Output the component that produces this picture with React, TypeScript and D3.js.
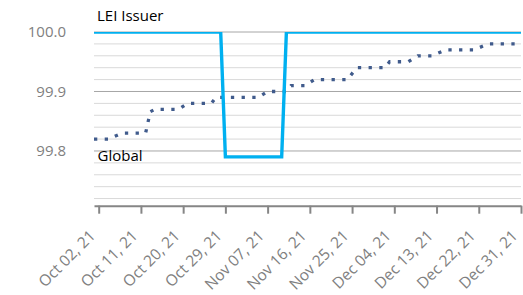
import React, { useRef, useEffect } from "react";
import * as d3 from "d3";

// LEI Issuer series (corner points of the step line)
const leiDates = ["2021-10-01", "2021-10-28", "2021-10-29", "2021-11-10", "2021-11-11", "2021-12-31"];
const leiValues = [100, 100, 99.79, 99.79, 100, 100];

// Global series
const globalDates = [
  "2021-10-01", "2021-10-04", "2021-10-07", "2021-10-12", "2021-10-13", "2021-10-14",
  "2021-10-19", "2021-10-21", "2021-10-26", "2021-10-27", "2021-11-05", "2021-11-07",
  "2021-11-11", "2021-11-12", "2021-11-15", "2021-11-17", "2021-11-24", "2021-11-26",
  "2021-12-02", "2021-12-03", "2021-12-07", "2021-12-09", "2021-12-12", "2021-12-15",
  "2021-12-21", "2021-12-24", "2021-12-31",
];
const globalValues = [
  99.82, 99.82, 99.83, 99.83, 99.866, 99.87,
  99.87, 99.88, 99.88, 99.89, 99.89, 99.9,
  99.9, 99.91, 99.91, 99.92, 99.92, 99.94,
  99.94, 99.95, 99.95, 99.96, 99.96, 99.97,
  99.97, 99.98, 99.98,
];

const xTicks = [
  "2021-10-02", "2021-10-11", "2021-10-20", "2021-10-29", "2021-11-07", "2021-11-16",
  "2021-11-25", "2021-12-04", "2021-12-13", "2021-12-22", "2021-12-31",
];
const yMajor = [99.8, 99.9, 100.0];
const yMinor = [99.72, 99.74, 99.76, 99.78, 99.82, 99.84, 99.86, 99.88, 99.92, 99.94, 99.96, 99.98];

const parse = d3.utcParse("%Y-%m-%d");
const fmt = d3.utcFormat("%b %d, %y");

export default function App() {
  const svgRef = useRef<SVGSVGElement>(null);

  useEffect(() => {
    const svg = d3.select(svgRef.current);
    svg.selectAll("*").remove();

    const left = 94, right = 521, top = 32, bottom = 205.7;
    const font = "'Open Sans', sans-serif";

    const x = d3.scaleUtc()
      .domain([parse("2021-10-01")!, parse("2021-12-31")!])
      .range([left, right]);
    const y = d3.scaleLinear().domain([99.708, 100]).range([bottom, top]);

    // gridlines
    svg.append("g")
      .selectAll("line")
      .data(yMinor)
      .join("line")
      .attr("x1", left).attr("x2", right)
      .attr("y1", (d) => y(d)).attr("y2", (d) => y(d))
      .attr("stroke", "#d9d9d9").attr("stroke-width", 1);
    svg.append("g")
      .selectAll("line")
      .data(yMajor)
      .join("line")
      .attr("x1", left).attr("x2", right)
      .attr("y1", (d) => y(d)).attr("y2", (d) => y(d))
      .attr("stroke", "#a6a6a6").attr("stroke-width", 1);

    // y labels
    svg.append("g")
      .selectAll("text")
      .data(yMajor)
      .join("text")
      .attr("x", 66)
      .attr("y", (d) => y(d))
      .attr("dy", "0.36em")
      .attr("text-anchor", "end")
      .attr("fill", "#808080")
      .style("font", `15px ${font}`)
      .text((d) => d.toFixed(1));

    // x axis
    const xAxis = d3.axisBottom(x)
      .tickValues(xTicks.map((d) => parse(d)!))
      .tickFormat((d) => fmt(d as Date))
      .tickSize(8)
      .tickSizeOuter(0);
    const gx = svg.append("g")
      .attr("transform", `translate(0,${bottom})`)
      .call(xAxis);
    gx.select(".domain").attr("stroke", "#868686").attr("stroke-width", 2);
    gx.selectAll(".tick line").attr("stroke", "#868686").attr("stroke-width", 2);
    gx.selectAll(".tick text")
      .attr("x", 0).attr("y", 0).attr("dy", 0)
      .attr("transform", "translate(-3,31) rotate(-45)")
      .attr("text-anchor", "end")
      .attr("fill", "#808080")
      .style("font", `15.5px ${font}`);

    // clip for plot area
    svg.append("clipPath").attr("id", "plot-clip")
      .append("rect")
      .attr("x", left - 2).attr("y", top)
      .attr("width", right - left + 4).attr("height", bottom - top + 10);

    const line = d3.line<[Date, number]>()
      .x((d) => x(d[0]))
      .y((d) => y(d[1]));

    const globalData = globalDates.map((d, i) => [parse(d)!, globalValues[i]] as [Date, number]);
    const leiData = leiDates.map((d, i) => [parse(d)!, leiValues[i]] as [Date, number]);

    svg.append("path")
      .attr("clip-path", "url(#plot-clip)")
      .attr("d", line(globalData))
      .attr("fill", "none")
      .attr("stroke", "#405b8c")
      .attr("stroke-width", 3.3)
      .attr("stroke-dasharray", "3.3 7.4");

    svg.append("path")
      .attr("clip-path", "url(#plot-clip)")
      .attr("d", line(leiData))
      .attr("fill", "none")
      .attr("stroke", "#00b0f0")
      .attr("stroke-width", 3.4)
      .attr("stroke-linejoin", "miter");

    // series labels
    svg.append("text")
      .attr("x", 97).attr("y", 20.5)
      .attr("fill", "#000")
      .style("font", `15px ${font}`)
      .text("LEI Issuer");
    svg.append("text")
      .attr("x", 97.5).attr("y", 160.5)
      .attr("fill", "#000")
      .style("font", `15px ${font}`)
      .text("Global");
  }, []);

  return (
    <svg
      ref={svgRef}
      width={523}
      height={295}
      style={{ position: "absolute", left: 0, top: 0, background: "#fff" }}
    />
  );
}
